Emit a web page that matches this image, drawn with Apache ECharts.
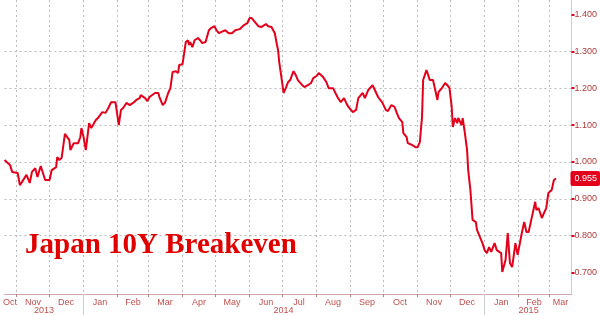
<!DOCTYPE html>
<html>
<head>
<meta charset="utf-8">
<script src="https://cdn.jsdelivr.net/npm/echarts@6/dist/echarts.min.js"></script>
<style>html,body{margin:0;padding:0;background:#fff}#c{width:600px;height:315px}</style>
</head>
<body>
<div id="c"></div>
<script>
const titleText = 'Japan 10Y Breakeven';
const axisStart = '2013-10-21';
const axisEnd = '2015-03-21';
const yTicks = [0.7, 0.8, 0.9, 1.0, 1.1, 1.2, 1.3, 1.4];
const monthNames = ['Jan','Feb','Mar','Apr','May','Jun','Jul','Aug','Sep','Oct','Nov','Dec'];

const dates = [
'2013-10-21','2013-10-26','2013-10-28','2013-11-02','2013-11-04','2013-11-06','2013-11-10','2013-11-13','2013-11-15','2013-11-18',
'2013-11-20','2013-11-23','2013-11-27','2013-12-01','2013-12-03','2013-12-07','2013-12-08','2013-12-10','2013-12-12','2013-12-15',
'2013-12-19','2013-12-20','2013-12-23','2013-12-27','2013-12-29','2013-12-30','2014-01-01','2014-01-03','2014-01-04','2014-01-06',
'2014-01-08','2014-01-12','2014-01-14','2014-01-16','2014-01-18','2014-01-21','2014-01-24','2014-01-26','2014-01-30','2014-02-02',
'2014-02-04','2014-02-06','2014-02-09','2014-02-12','2014-02-15','2014-02-18','2014-02-21','2014-02-22','2014-02-26','2014-02-28',
'2014-03-02','2014-03-07','2014-03-10','2014-03-11','2014-03-14','2014-03-16','2014-03-19','2014-03-21','2014-03-23','2014-03-26',
'2014-03-28','2014-03-29','2014-04-01','2014-04-04','2014-04-06','2014-04-07','2014-04-08','2014-04-10','2014-04-12','2014-04-15',
'2014-04-17','2014-04-19','2014-04-22','2014-04-25','2014-04-27','2014-04-30','2014-05-02','2014-05-04','2014-05-06','2014-05-10',
'2014-05-13','2014-05-16','2014-05-19','2014-05-23','2014-05-27','2014-05-30','2014-06-01','2014-06-03','2014-06-06','2014-06-09',
'2014-06-12','2014-06-16','2014-06-18','2014-06-21','2014-06-24','2014-06-26','2014-06-27','2014-06-28','2014-06-30','2014-07-02',
'2014-07-04','2014-07-06','2014-07-08','2014-07-11','2014-07-13','2014-07-15','2014-07-19','2014-07-21','2014-07-24','2014-07-27',
'2014-07-29','2014-08-01','2014-08-03','2014-08-07','2014-08-10','2014-08-12','2014-08-16','2014-08-17','2014-08-20','2014-08-23',
'2014-08-26','2014-08-28','2014-08-30','2014-09-03','2014-09-06','2014-09-08','2014-09-12','2014-09-14','2014-09-17','2014-09-21',
'2014-09-24','2014-09-26','2014-09-30','2014-10-03','2014-10-05','2014-10-08','2014-10-11','2014-10-13','2014-10-15','2014-10-18',
'2014-10-19','2014-10-22','2014-10-23','2014-10-27','2014-10-30','2014-11-01','2014-11-03','2014-11-05','2014-11-06','2014-11-09',
'2014-11-10','2014-11-12','2014-11-15','2014-11-17','2014-11-19','2014-11-20','2014-11-23','2014-11-26','2014-11-28','2014-11-30',
'2014-12-02','2014-12-03','2014-12-05','2014-12-07','2014-12-08','2014-12-11','2014-12-12','2014-12-14','2014-12-16','2014-12-17',
'2014-12-19','2014-12-21','2014-12-24','2014-12-25','2014-12-28','2014-12-30','2015-01-01','2015-01-03','2015-01-05','2015-01-07',
'2015-01-10','2015-01-12','2015-01-16','2015-01-17','2015-01-20','2015-01-22','2015-01-24','2015-01-26','2015-01-29','2015-01-31',
'2015-02-04','2015-02-06','2015-02-08','2015-02-10','2015-02-13','2015-02-16','2015-02-17','2015-02-19','2015-02-22','2015-02-26',
'2015-02-28','2015-03-03','2015-03-05','2015-03-07'
];
const values = [
1.005,0.992,0.973,0.970,0.937,0.946,0.965,0.943,0.973,0.983,
0.959,0.989,0.951,0.951,0.978,0.986,1.013,1.005,1.011,1.076,
1.059,1.032,1.051,1.051,1.067,1.092,1.067,1.032,1.032,1.105,
1.092,1.113,1.119,1.127,1.135,1.133,1.149,1.162,1.162,1.100,
1.141,1.146,1.160,1.154,1.160,1.168,1.173,1.181,1.173,1.165,
1.176,1.187,1.187,1.176,1.154,1.160,1.187,1.200,1.244,1.246,
1.241,1.263,1.265,1.325,1.330,1.317,1.325,1.311,1.330,1.336,
1.330,1.322,1.325,1.357,1.363,1.368,1.357,1.349,1.352,1.357,
1.349,1.349,1.357,1.360,1.371,1.376,1.390,1.390,1.379,1.368,
1.366,1.374,1.368,1.366,1.349,1.317,1.303,1.271,1.230,1.187,
1.200,1.216,1.222,1.246,1.236,1.222,1.208,1.203,1.208,1.214,
1.227,1.233,1.241,1.230,1.216,1.200,1.200,1.195,1.176,1.162,
1.173,1.160,1.149,1.135,1.141,1.173,1.187,1.173,1.195,1.208,
1.189,1.176,1.160,1.141,1.138,1.154,1.149,1.133,1.119,1.108,
1.078,1.067,1.051,1.046,1.040,1.040,1.054,1.122,1.222,1.249,
1.241,1.222,1.222,1.195,1.168,1.189,1.200,1.214,1.208,1.200,
1.149,1.095,1.119,1.105,1.119,1.100,1.119,1.078,1.032,0.978,
0.924,0.843,0.837,0.816,0.794,0.780,0.761,0.753,0.769,0.756,
0.780,0.761,0.753,0.702,0.734,0.807,0.726,0.715,0.780,0.748,
0.810,0.837,0.810,0.810,0.851,0.892,0.870,0.875,0.848,0.875,
0.916,0.924,0.951,0.955
];

// daily category list for the axis
function fmt(d){const m=d.getUTCMonth()+1, day=d.getUTCDate();return d.getUTCFullYear()+'-'+(m<10?'0':'')+m+'-'+(day<10?'0':'')+day;}
const days = [];
for (let t = Date.parse(axisStart+'T00:00:00Z'); t <= Date.parse(axisEnd+'T00:00:00Z'); t += 86400000) days.push(fmt(new Date(t)));

// label positions: middle of each visible month / year span
function middles(keyFn){
  const spans = {}; const order = [];
  days.forEach((d,i)=>{const k=keyFn(d); if(!(k in spans)){spans[k]=[i,i];order.push(k);} else spans[k][1]=i;});
  const s = new Set(); order.forEach(k=>s.add(Math.round((spans[k][0]+spans[k][1])/2))); return s;
}
const monthLabelIdx = middles(d=>d.slice(0,7));
const yearLabelIdx = middles(d=>d.slice(0,4));

const red = '#e3001b';
const labRed = '#c0504d';
const seriesData = dates.map((d,i)=>[d, values[i]]);
const lastValue = values[values.length-1];

const chart = echarts.init(document.getElementById('c'), null, {renderer:'canvas'});
chart.setOption({
  backgroundColor:'#fff',
  animation:false,
  title:{text:titleText,left:20,top:226,textStyle:{fontFamily:'Liberation Serif',fontWeight:'bold',fontSize:29,color:'#e00000'}},
  grid:{left:0,right:27,top:0,bottom:21,containLabel:false},
  xAxis:[{
    type:'category',data:days,boundaryGap:false,
    axisLine:{show:true,lineStyle:{color:'#cfa8a8',width:1}},
    axisTick:{show:true,length:3,interval:(i,v)=>v.slice(8)==='01',lineStyle:{color:'#b08080'}},
    axisLabel:{show:true,interval:(i)=>monthLabelIdx.has(i),formatter:v=>monthNames[parseInt(v.slice(5,7),10)-1],
      color:labRed,fontSize:9,fontFamily:'Liberation Sans',margin:4},
    splitLine:{show:true,interval:(i,v)=>v.slice(8)==='01',lineStyle:{color:'#bbbbbb',type:[2,3],width:1}}
  },{
    type:'category',data:days,boundaryGap:false,position:'bottom',
    axisLine:{show:false},
    axisTick:{show:true,length:21,interval:(i,v)=>v.slice(5)==='01-01',lineStyle:{color:'#cccccc'}},
    axisLabel:{show:true,interval:(i)=>yearLabelIdx.has(i),formatter:v=>v.slice(0,4),
      color:labRed,fontSize:9,fontFamily:'Liberation Sans',margin:12},
    splitLine:{show:false}
  }],
  yAxis:{
    type:'value',position:'right',min:0.642,max:1.439,
    axisLine:{show:true,lineStyle:{color:'#cccccc'}},
    axisTick:{show:true,length:3,customValues:yTicks,lineStyle:{color:red,width:2}},
    axisLabel:{show:true,customValues:yTicks,formatter:v=>v.toFixed(3),color:'#b03a3a',fontSize:9,fontFamily:'Liberation Sans',margin:3},
    splitLine:{show:true,showMinLine:false,showMaxLine:false,lineStyle:{color:'#bbbbbb',type:[2,3],width:1}},
    axisPointer:{show:true,value:lastValue,status:'show',type:'line',lineStyle:{opacity:0},triggerTooltip:false,
      label:{show:true,formatter:p=>Number(p.value).toFixed(3),backgroundColor:red,color:'#fff',fontSize:9,
        fontFamily:'Liberation Sans',padding:[3,3,3,4],borderRadius:2,margin:0}}
  },
  series:[{
    type:'line',xAxisIndex:0,data:seriesData,showSymbol:false,symbol:'none',smooth:false,
    lineStyle:{color:red,width:2},itemStyle:{color:red},z:5
  }]
});
</script>
</body>
</html>
